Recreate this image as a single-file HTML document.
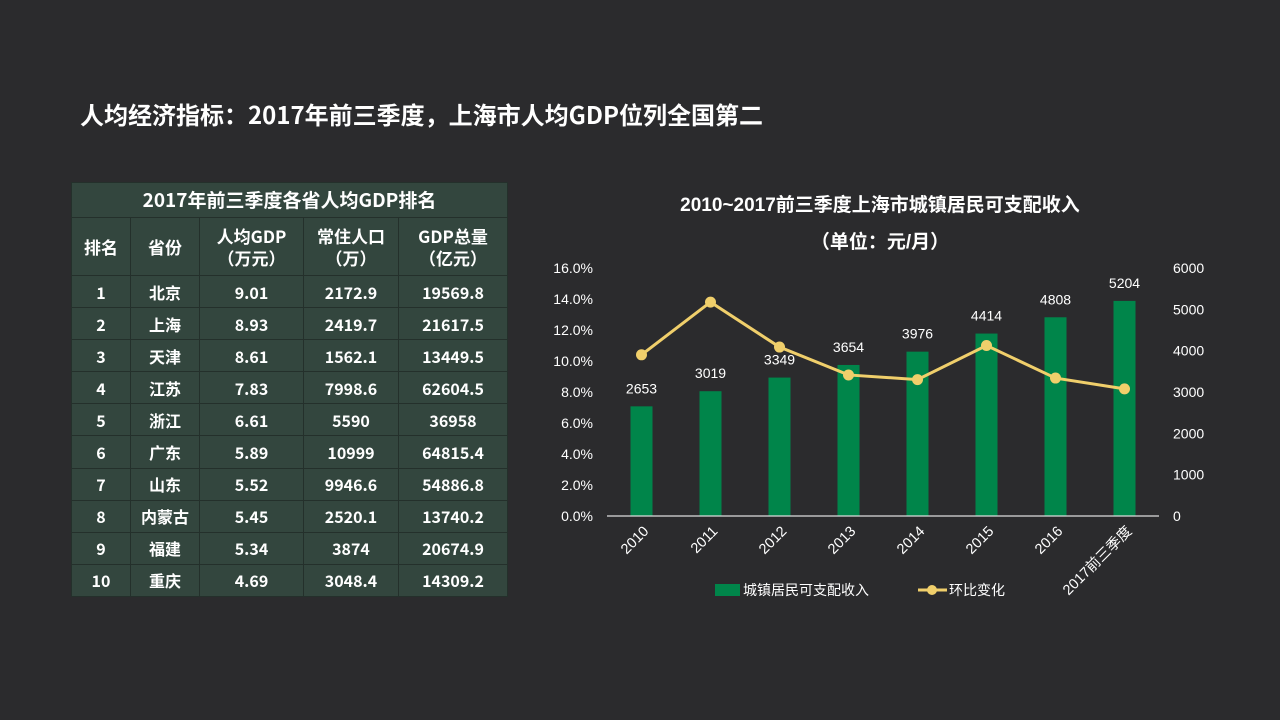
<!DOCTYPE html>
<html><head><meta charset="utf-8">
<style>
body{margin:0;width:1280px;height:720px;background:#2b2b2d;overflow:hidden;font-family:"Liberation Sans","Noto Sans CJK SC",sans-serif;color:#fff;position:relative}
#title{position:absolute;left:80px;top:98px;font-size:24px;font-weight:bold;font-family:"Noto Sans CJK SC",sans-serif;line-height:32px}
table{position:absolute;left:71px;top:182px;width:437px;border-collapse:collapse;background:#33463e;font-weight:bold;font-size:16px;font-family:"Noto Sans CJK SC",sans-serif}
td{border:1px solid #24302b;text-align:center;padding:0;height:31.1px;line-height:18px;vertical-align:middle}
.th td{height:57px;line-height:22px;font-size:17px}
.tt td{height:34px;font-size:19px}
</style></head><body>
<div id="title">人均经济指标：2017年前三季度，上海市人均GDP位列全国第二</div>
<table>
<tr class="tt"><td colspan="5">2017年前三季度各省人均GDP排名</td></tr>
<tr class="th"><td style="width:58px">排名</td><td style="width:68px">省份</td><td style="width:103px">人均GDP<br>（万元）</td><td style="width:94px">常住人口<br>（万）</td><td>GDP总量<br>（亿元）</td></tr>
<tbody id="rows"></tbody>
</table>
<svg id="chart" width="1280" height="720" style="position:absolute;left:0;top:0"></svg>
<script>
const rows=[[1,"北京","9.01","2172.9","19569.8"],[2,"上海","8.93","2419.7","21617.5"],[3,"天津","8.61","1562.1","13449.5"],[4,"江苏","7.83","7998.6","62604.5"],[5,"浙江","6.61","5590","36958"],[6,"广东","5.89","10999","64815.4"],[7,"山东","5.52","9946.6","54886.8"],[8,"内蒙古","5.45","2520.1","13740.2"],[9,"福建","5.34","3874","20674.9"],[10,"重庆","4.69","3048.4","14309.2"]];
const tb=document.getElementById('rows');
rows.forEach(r=>{const tr=document.createElement('tr');


tr.innerHTML=r.map(c=>'<td>'+c+'</td>').join('');tb.appendChild(tr);});

const categories=["2010","2011","2012","2013","2014","2015","2016","2017前三季度"];
const incomeValues=[2653,3019,3349,3654,3976,4414,4808,5204];
const growthValues=[10.4,13.8,10.9,9.1,8.8,11.0,8.9,8.2];
const leftTicks=[0,2,4,6,8,10,12,14,16];
const rightTicks=[0,1000,2000,3000,4000,5000,6000];
const svg=document.getElementById('chart');const NS='http://www.w3.org/2000/svg';
function el(t,a,txt){const e=document.createElementNS(NS,t);for(const k in a)e.setAttribute(k,a[k]);if(txt!==undefined)e.textContent=txt;svg.appendChild(e);return e;}
const x0=607,x1=1159,yb=516,yt=268,bw=(x1-x0)/categories.length;
const xc=i=>x0+bw*(i+0.5);
const yL=v=>yb-(v/16)*(yb-yt);
const yR=v=>yb-(v/6000)*(yb-yt);
const F='"Liberation Sans","Noto Sans CJK SC",sans-serif';
let t=el('text',{x:880,y:211,'text-anchor':'middle','font-size':19,'font-weight':'bold',fill:'#fff','font-family':F},'2010~2017前三季度上海市城镇居民可支配收入');

t=el('text',{x:880,y:248,'text-anchor':'middle','font-size':19,'font-weight':'bold',fill:'#fff','font-family':F},'（单位：元/月）');

leftTicks.forEach(v=>{const e=el('text',{x:593,y:yL(v)+5,'text-anchor':'end','font-size':14,fill:'#fff','font-family':F},v.toFixed(1)+'%');
});
rightTicks.forEach(v=>{const e=el('text',{x:1173,y:yR(v)+5,'text-anchor':'start','font-size':14,fill:'#fff','font-family':F},v);
});
incomeValues.forEach((v,i)=>{const b=el('rect',{x:xc(i)-11,y:yR(v),width:22,height:yb-yR(v),fill:'#00854a'});

const l=el('text',{x:xc(i),y:yR(v)-13,'text-anchor':'middle','font-size':14,fill:'#fff','font-family':F},v);
});
let ax=el('line',{x1:x0,x2:x1,y1:yb,y2:yb,stroke:'#ddd','stroke-width':1.2});

const pl=el('polyline',{points:growthValues.map((v,i)=>xc(i)+','+yL(v)).join(' '),fill:'none',stroke:'#f0cf6b','stroke-width':3});

growthValues.forEach((v,i)=>{const c=el('circle',{cx:xc(i),cy:yL(v),r:5.5,fill:'#f0cf6b'});
});
categories.forEach((c,i)=>{const e=el('text',{x:xc(i)+8,y:yb+16,'text-anchor':'end','font-size':14.5,fill:'#fff','font-family':F,transform:`rotate(-45 ${xc(i)+8} ${yb+16})`},c);
});
let lg=el('rect',{x:715,y:584,width:25,height:12,fill:'#00854a'});

lg=el('text',{x:743,y:595,'font-size':14,fill:'#fff','font-family':F},'城镇居民可支配收入');

lg=el('line',{x1:918,x2:947,y1:590,y2:590,stroke:'#f0cf6b','stroke-width':3});

lg=el('circle',{cx:932,cy:590,r:5,fill:'#f0cf6b'});

lg=el('text',{x:949,y:595,'font-size':14,fill:'#fff','font-family':F},'环比变化');

</script>
</body></html>
